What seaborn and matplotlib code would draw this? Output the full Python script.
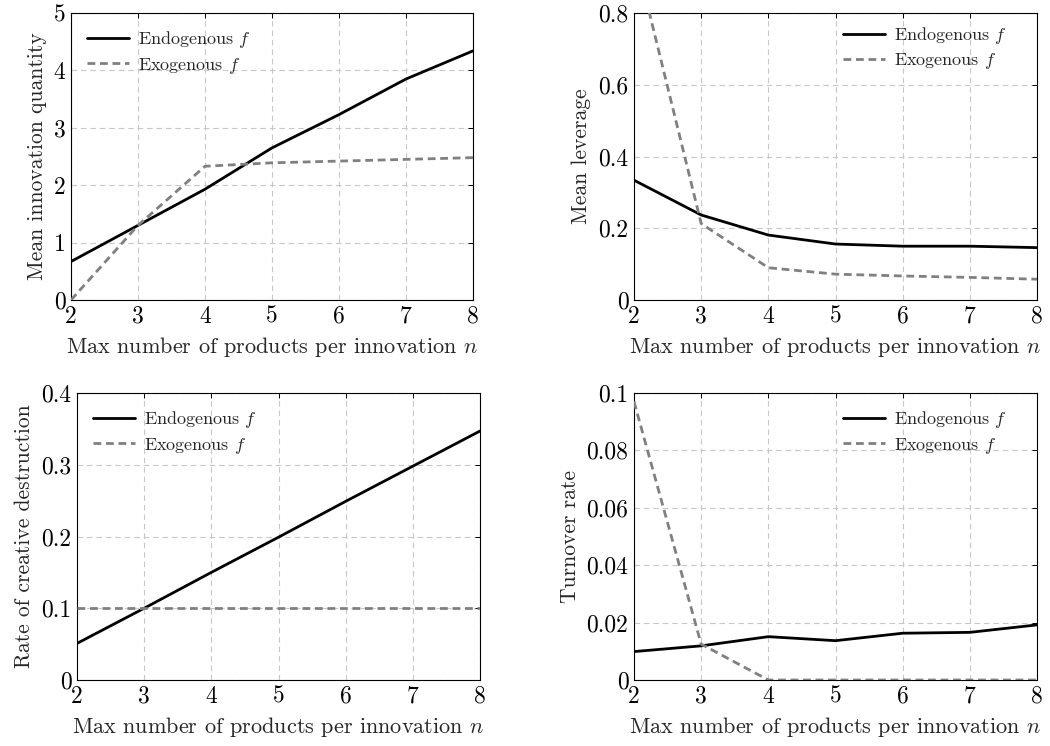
import numpy as np
import pandas as pd
import matplotlib
matplotlib.use("Agg")
import matplotlib.pyplot as plt
from matplotlib.ticker import FuncFormatter, FixedLocator
import seaborn as sns

n_values = [2, 3, 4, 5, 6, 7, 8]

innov_endo = [0.67, 1.30, 1.93, 2.65, 3.23, 3.85, 4.34]
innov_exo = [0.0, 1.30, 2.33, 2.39, 2.42, 2.45, 2.48]

lev_endo = [0.334, 0.237, 0.181, 0.156, 0.150, 0.150, 0.146]
lev_exo = [0.975, 0.213, 0.090, 0.072, 0.067, 0.063, 0.058]

cd_endo = [0.051, 0.100, 0.150, 0.199, 0.249, 0.298, 0.347]
cd_exo = [0.100, 0.100, 0.100, 0.100, 0.100, 0.100, 0.100]

to_endo = [0.0099, 0.0119, 0.0151, 0.0137, 0.0163, 0.0166, 0.0192]
to_exo = [0.097, 0.0125, 0.0, 0.0, 0.0, 0.0, 0.0]

series_names = ["Endogenous $f$", "Exogenous $f$"]
xlabel = "Max number of products per innovation $n$"

panels = [
    ("Mean innovation quantity", innov_endo, innov_exo, 5, [0, 1, 2, 3, 4, 5], "upper left", (0.0, 1.0)),
    ("Mean leverage", lev_endo, lev_exo, 0.8, [0, 0.2, 0.4, 0.6, 0.8], "upper right", (0.965, 1.015)),
    ("Rate of creative destruction", cd_endo, cd_exo, 0.4, [0, 0.1, 0.2, 0.3, 0.4], "upper left", (0.0, 1.0)),
    ("Turnover rate", to_endo, to_exo, 0.1, [0, 0.02, 0.04, 0.06, 0.08, 0.1], "upper right", (0.965, 1.0)),
]

sns.set_style("white")
plt.rcParams["font.family"] = ["cmr10", "DejaVu Serif"]
plt.rcParams["mathtext.fontset"] = "cm"
plt.rcParams["axes.formatter.use_mathtext"] = True
plt.rcParams["axes.unicode_minus"] = False

fig = plt.figure(figsize=(10.5, 7.46), dpi=100)
W, H = 1050, 746
boxes = [
    (71, 13, 473, 300),
    (634, 13, 1037, 300),
    (77, 393, 480, 680),
    (634, 393, 1037, 680),
]

fmt = FuncFormatter(lambda v, p: ("%g" % round(v, 6)))

for (ylabel, endo, exo, ymax, yticks, legloc, anchor), (l, t, r, b) in zip(panels, boxes):
    ax = fig.add_axes([l / W, 1 - b / H, (r - l) / W, (b - t) / H])
    df = pd.DataFrame({
        "n": n_values * 2,
        "value": list(endo) + list(exo),
        "series": [series_names[0]] * len(n_values) + [series_names[1]] * len(n_values),
    })
    sns.lineplot(data=df, x="n", y="value", hue="series", style="series",
                 palette={series_names[0]: "black", series_names[1]: "#808080"},
                 dashes={series_names[0]: "", series_names[1]: (2.8, 1.7)},
                 linewidth=2.0, ax=ax, legend=True, zorder=3)
    ax.set_xlim(2, 8)
    ax.set_ylim(0, ymax)
    ax.xaxis.set_major_locator(FixedLocator(n_values))
    ax.yaxis.set_major_locator(FixedLocator(yticks))
    ax.xaxis.set_major_formatter(fmt)
    ax.yaxis.set_major_formatter(fmt)
    ax.grid(True, color="#c8c8c8", linestyle=(0, (5, 3.5)), linewidth=0.8, zorder=0)
    ax.set_axisbelow(True)
    for s in ax.spines.values():
        s.set_visible(True)
        s.set_color("black")
        s.set_linewidth(0.8)
    ax.tick_params(direction="in", length=3.5, width=0.7, top=True, right=True,
                   labelsize=17, pad=4, colors="black")
    ax.set_xlabel(xlabel, fontsize=16, labelpad=5)
    ax.set_ylabel(ylabel, fontsize=15.5, labelpad=5)
    leg = ax.legend(loc=legloc, bbox_to_anchor=anchor, frameon=False, fontsize=13,
                    handlelength=2.3, borderaxespad=0.5, labelspacing=0.3,
                    handletextpad=0.5)
    leg.set_title(None)

fig.savefig("out.png", dpi=100)
